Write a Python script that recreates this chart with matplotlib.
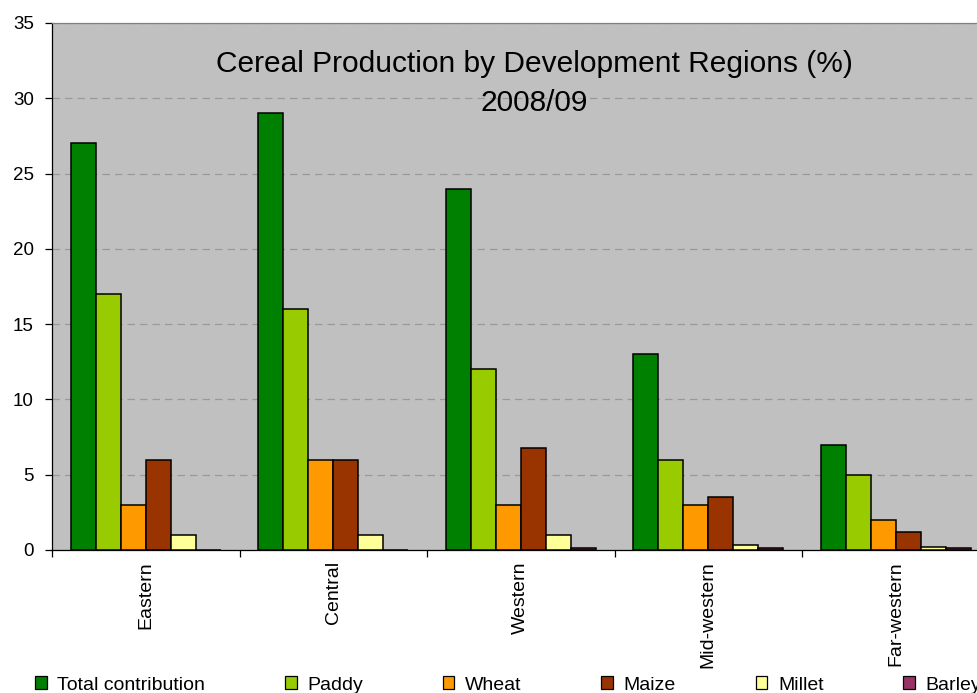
import numpy as np
import matplotlib
matplotlib.use("Agg")
import matplotlib.pyplot as plt
from matplotlib.patches import Patch

plt.rcParams['font.family'] = ['Liberation Sans', 'DejaVu Sans']

regions = ["Eastern", "Central", "Western", "Mid-western", "Far-western"]
series_names = ["Total contribution", "Paddy", "Wheat", "Maize", "Millet", "Barley"]
total = [27, 29, 24, 13, 7]
paddy = [17, 16, 12, 6, 5]
wheat = [3, 6, 3, 3, 2]
maize = [6, 6, 6.8, 3.5, 1.2]
millet = [1, 1, 1, 0.3, 0.2]
barley = [0, 0, 0.1, 0.1, 0.1]
yticks = [0, 5, 10, 15, 20, 25, 30, 35]

series = [total, paddy, wheat, maize, millet, barley]
colors = ["#008000", "#99CC00", "#FF9900", "#993300", "#FFFF99", "#993366"]

fig = plt.figure(figsize=(9.77, 6.93), dpi=100)
ax = fig.add_axes([52 / 977, 1 - 550 / 693, 937.5 / 977, 527 / 693])
ax.set_facecolor("#C0C0C0")

n = len(series)
w = 0.8 / n
x0 = np.arange(len(regions))
for j, (vals, c) in enumerate(zip(series, colors)):
    ax.bar(x0 + 0.1 + (j + 0.5) * w, vals, width=w, color=c,
           edgecolor="black", linewidth=1.1, zorder=3)

ax.set_xlim(0, len(regions))
ax.set_ylim(0, 35)
ax.set_yticks(yticks)
ax.set_yticklabels([str(v) for v in yticks], fontsize=13.5)
ax.yaxis.grid(True, color="#999999", linestyle=(0, (6, 4)), linewidth=0.9, zorder=1)

ax.set_xticks(np.arange(len(regions) + 1))
ax.set_xticklabels([])
ax.set_xticks(x0 + 0.5, minor=True)
ax.set_xticklabels(regions, minor=True, rotation=90, fontsize=14, va="top")
ax.tick_params(axis="x", which="minor", length=0, pad=8)
ax.tick_params(axis="x", which="major", length=5, width=0.9, direction="out")
ax.tick_params(axis="y", length=5, width=0.9, direction="out", pad=8)

for s in ("left", "bottom"):
    ax.spines[s].set_color("black")
    ax.spines[s].set_linewidth(0.9)
for s in ("top", "right"):
    ax.spines[s].set_color("#808080")
    ax.spines[s].set_linewidth(0.9)

fig.text(534 / 977, 1 - 72 / 693, "Cereal Production by Development Regions (%)",
         ha="center", va="baseline", fontsize=21.5)
fig.text(534 / 977, 1 - 111 / 693, "2008/09",
         ha="center", va="baseline", fontsize=21.5)

handles = [Patch(facecolor=c, edgecolor="black", linewidth=0.9) for c in colors]
fig.legend(handles, series_names, loc="center left",
           bbox_to_anchor=(35 / 977, 1 - 685 / 693), ncol=6, frameon=False,
           fontsize=14, borderpad=0, borderaxespad=0, handlelength=0.6,
           handleheight=0.6, handletextpad=0.55, columnspacing=4.1)

fig.savefig("out.png", dpi=100)
